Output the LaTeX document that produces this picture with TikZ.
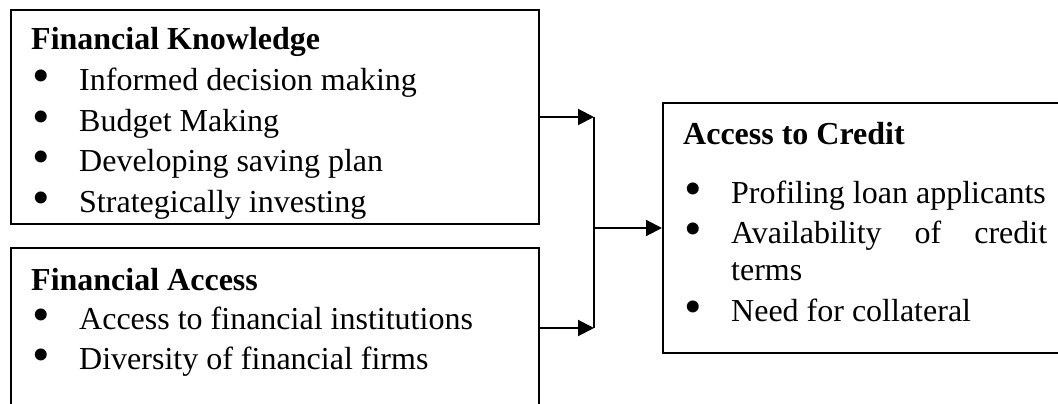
\documentclass[tikz,border=0pt]{standalone}
\usepackage{fontspec}
\setmainfont{Liberation Serif}
\usetikzlibrary{arrows.meta,calc}

\tikzset{
  box/.style={draw, line width=2pt, fill=white, anchor=north west, inner sep=0pt},
  head/.style={anchor=base west, inner sep=0pt, font=\fontsize{32}{40}\selectfont\bfseries},
  item/.style={anchor=base west, inner sep=0pt},
  link/.style={line width=2pt},
  arr/.style={link, -{Triangle[length=16pt,width=16pt]}},
}
\newcommand{\bull}[1]{\makebox[47pt][l]{\smash{\raisebox{-2pt}{\fontsize{50}{50}\selectfont •}}}#1}

\begin{document}
\begin{tikzpicture}[x=1pt, y=-1pt, font=\fontsize{32}{40}\selectfont]
  \useasboundingbox (0,0) rectangle (1058,404);
  \clip (0,0) rectangle (1058,404);

  % boxes
  \node[box, minimum width=528pt, minimum height=214pt] (know) at (10,9) {};
  \node[box, minimum width=528pt, minimum height=160pt] (facc) at (10,247) {};
  \node[box, minimum width=420pt, minimum height=250pt] (cred) at (662,102) {};

  % financial knowledge
  \node[head] (kh) at ($(know.north west)+(21,41)$) {Financial Knowledge};
  \foreach \t [count=\i] in {Informed decision making, Budget Making,
      Developing saving plan, Strategically investing}
    \node[item] (k\i) at ($(know.north west)+(22,{41+40.5*\i})$) {\bull{\t}};

  % financial access
  \node[head] (fh) at ($(facc.north west)+(21,43)$) {Financial Access};
  \foreach \t [count=\i] in {Access to financial institutions,
      Diversity of financial firms}
    \node[item] (f\i) at ($(facc.north west)+(22,{42+40*\i})$) {\bull{\t}};

  % access to credit
  \node[head] (ch) at ($(cred.north west)+(21,42)$) {Access to Credit};
  \node[item] (c1) at ($(cred.north west)+(22,101)$) {\bull{Profiling loan applicants}};
  \node[item] (c2) at ($(cred.north west)+(22,141)$) {\bull{\makebox[316pt][s]{Availability of credit}}};
  \node[item] (c2b) at ($(cred.north west)+(69,178)$) {terms};
  \node[item] (c3) at ($(cred.north west)+(22,219)$) {\bull{Need for collateral}};

  % connectors
  \coordinate (jtop) at ($(know.east)+(54,0)$);
  \coordinate (jbot) at (jtop |- facc.east);
  \draw[arr] (know.east) -- (jtop);
  \draw[arr] (facc.east) -- (jbot);
  \draw[link] (jtop) -- (jbot);
  \draw[arr] (jtop |- cred.west) -- (cred.west);
\end{tikzpicture}
\end{document}
